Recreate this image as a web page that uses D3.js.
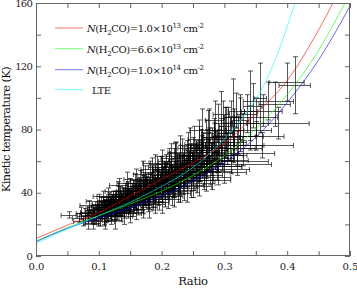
<!DOCTYPE html>
<html><head><meta charset="utf-8">
<script src="https://cdn.jsdelivr.net/npm/d3@7"></script>
<style>body{margin:0;background:#fff}svg{display:block}</style>
</head><body><svg id="c" width="357" height="288"></svg>
<script>
// ---- data ----
const ratioTicks = [0, 0.1, 0.2, 0.3, 0.4, 0.5];
const ratioMinorTicks = [0.05, 0.15, 0.25, 0.35, 0.45];
const tempTicks = [0, 40, 80, 120, 160];
const tempMinorTicks = [20, 60, 100, 140];

const legendLabels = ["1.0", "6.6", "1.0"];
const legendExps = ["13", "13", "14"];
const curveColors = ["#ff0000", "#00ff00", "#0000ff", "#00ffff"];

const redRatio = [0, 0.05, 0.1, 0.15, 0.2, 0.25, 0.3, 0.35, 0.4, 0.45, 0.473];
const redTemp  = [11, 19.5, 27.5, 38, 48.5, 59, 71, 90, 111, 143, 160];
const greenRatio = [0, 0.05, 0.1, 0.15, 0.2, 0.25, 0.3, 0.35, 0.4, 0.45, 0.492];
const greenTemp  = [9.5, 18, 25.5, 33, 41, 51, 63.5, 80.5, 102, 130, 160];
const blueRatio = [0, 0.05, 0.1, 0.15, 0.2, 0.25, 0.3, 0.35, 0.4, 0.45, 0.5];
const blueTemp  = [9, 17.5, 24, 30.5, 38, 47.5, 59, 75, 97, 124, 158];
const lteRatio = [0, 0.05, 0.1, 0.15, 0.2, 0.25, 0.3, 0.33, 0.36, 0.38, 0.4, 0.42];
const lteTemp  = [8, 17, 25.5, 34, 44, 56, 74, 88, 106, 123, 145, 170];

// observed points: [ratio, Tkin, ratio error, Tkin error]
const observations = [
[0.052,26,0.012,2],[0.068,24,0.010,3],[0.072,27,0.008,4],[0.075,22,0.015,3],[0.078,25,0.012,5],[0.083,23,0.008,6],
[0.085,32,0.015,3],[0.106,38,0.015,3],[0.132,45,0.015,4],[0.190,59,0.020,5],
[0.081,28,0.010,3],[0.086,26,0.014,3],[0.088,24,0.009,4],[0.090,29,0.012,3],[0.092,27,0.020,4],[0.093,25,0.010,5],[0.095,23,0.011,3],[0.097,30,0.013,4],[0.098,27,0.009,3],[0.099,25,0.016,6],[0.100,32,0.012,3],[0.101,28,0.010,4],[0.102,24,0.008,5],[0.104,26,0.015,3],
[0.105,30,0.010,4],[0.106,28,0.022,3],[0.107,33,0.012,4],[0.108,25,0.011,5],[0.109,29,0.009,3],[0.110,31,0.014,4],[0.111,27,0.018,6],[0.112,34,0.010,3],[0.113,30,0.013,5],[0.114,26,0.009,4],[0.115,32,0.016,3],[0.116,29,0.011,4],[0.117,35,0.008,5],[0.118,28,0.012,3],[0.119,31,0.020,6],[0.120,33,0.010,4],[0.120,26,0.014,3],[0.121,30,0.009,5],
[0.122,35,0.011,4],[0.123,31,0.010,3],[0.124,28,0.017,5],[0.125,37,0.012,4],[0.126,33,0.009,6],[0.127,30,0.013,3],[0.128,34,0.010,4],[0.129,27,0.015,4],[0.130,36,0.011,5],[0.131,32,0.020,3],[0.132,29,0.009,4],[0.133,38,0.012,6],[0.134,34,0.014,3],[0.135,31,0.010,5],[0.136,36,0.013,4],[0.137,28,0.011,3],[0.138,33,0.018,5],[0.139,39,0.010,4],[0.140,35,0.012,3],[0.140,30,0.009,6],
[0.141,37,0.014,4],[0.142,33,0.011,5],[0.143,40,0.010,3],[0.144,31,0.016,4],[0.145,36,0.012,6],[0.146,34,0.009,4],[0.147,42,0.013,5],[0.148,38,0.020,3],[0.149,32,0.011,4],[0.150,36,0.010,5],[0.151,40,0.015,4],[0.152,34,0.012,6],[0.153,38,0.009,3],[0.154,43,0.011,5],[0.155,35,0.018,4],[0.156,32,0.013,5],[0.157,39,0.010,4],[0.158,37,0.012,6],[0.159,44,0.014,3],[0.160,34,0.011,5],
[0.161,41,0.010,4],[0.162,38,0.016,5],[0.163,35,0.012,6],[0.164,45,0.011,4],[0.165,40,0.013,5],[0.166,37,0.009,4],[0.167,42,0.020,6],[0.168,34,0.012,5],[0.169,39,0.010,4],[0.170,46,0.014,5],[0.171,41,0.011,6],[0.172,36,0.015,4],[0.173,43,0.010,5],[0.174,39,0.012,7],[0.175,48,0.013,4],[0.176,37,0.011,5],[0.177,44,0.018,6],[0.178,40,0.010,4],[0.179,35,0.012,5],[0.180,42,0.014,6],
[0.181,47,0.011,5],[0.182,39,0.013,6],[0.183,44,0.010,4],[0.184,50,0.015,7],[0.185,41,0.012,5],[0.186,37,0.020,6],[0.187,46,0.011,5],[0.188,43,0.013,8],[0.189,52,0.010,5],[0.190,39,0.014,6],[0.191,45,0.012,4],[0.192,48,0.011,7],[0.193,42,0.016,5],[0.194,38,0.012,6],[0.195,50,0.010,8],[0.196,44,0.013,5],[0.197,47,0.011,6],[0.198,41,0.018,5],[0.199,54,0.012,9],[0.200,45,0.014,5],
[0.201,40,0.011,6],[0.202,49,0.012,7],[0.203,43,0.015,5],[0.204,52,0.010,8],[0.205,46,0.013,6],[0.206,41,0.012,5],[0.207,55,0.020,9],[0.208,48,0.011,6],[0.209,44,0.013,7],[0.210,51,0.010,5],[0.211,42,0.016,6],[0.212,57,0.012,8],[0.213,47,0.011,6],[0.214,53,0.014,7],[0.215,45,0.012,5],[0.216,50,0.018,8],[0.218,43,0.011,6],[0.219,58,0.013,10],
[0.220,49,0.012,7],[0.221,54,0.010,6],[0.222,46,0.015,8],[0.223,60,0.012,12],[0.224,51,0.011,6],[0.226,48,0.022,7],[0.227,56,0.012,8],[0.228,44,0.013,6],[0.229,53,0.010,9],[0.230,62,0.014,8],[0.231,50,0.012,7],[0.233,57,0.016,6],[0.234,47,0.011,8],[0.236,59,0.013,10],[0.237,52,0.030,7],[0.239,55,0.012,8],
[0.240,64,0.012,9],[0.241,50,0.015,7],[0.243,58,0.011,8],[0.244,53,0.026,6],[0.246,61,0.013,10],[0.247,48,0.012,7],[0.249,56,0.014,9],[0.250,67,0.011,8],[0.252,54,0.035,7],[0.253,60,0.012,11],[0.255,51,0.016,8],[0.256,63,0.013,9],[0.258,57,0.040,8],[0.259,70,0.011,12],
[0.261,55,0.014,8],[0.263,62,0.012,10],[0.264,58,0.030,9],[0.266,67,0.013,11],[0.268,53,0.012,8],[0.270,64,0.045,10],[0.271,72,0.012,14],[0.273,59,0.016,9],[0.275,66,0.013,12],[0.276,78,0.011,15],[0.278,62,0.038,9],[0.280,70,0.014,11],
[0.282,57,0.045,9],[0.284,74,0.012,13],[0.286,66,0.015,10],[0.288,61,0.050,8],[0.290,80,0.013,16],[0.292,69,0.012,11],[0.294,75,0.030,12],[0.296,64,0.040,10],[0.298,84,0.014,14],[0.300,72,0.016,12],
[0.302,78,0.012,16],[0.304,68,0.045,10],[0.306,82,0.014,12],[0.309,74,0.020,14],[0.311,88,0.012,10],[0.313,70,0.050,11],[0.316,80,0.015,13],[0.319,92,0.013,11],[0.322,76,0.040,12],[0.325,86,0.014,14],[0.330,80,0.045,10],[0.336,90,0.016,12],
[0.340,84,0.030,11],[0.345,95,0.015,14],[0.350,88,0.035,12],[0.357,100,0.010,22],[0.362,92,0.030,10],[0.370,98,0.040,12],[0.380,96,0.025,14],[0.399,110,0.028,12],[0.412,108,0.025,18],[0.385,84,0.050,10],
[0.274,75,0.010,17],[0.301,78,0.012,16],[0.325,84,0.012,18],[0.314,88,0.014,24],[0.340,92,0.013,25],[0.221,58,0.012,13],
[0.360,70,0.050,8],[0.350,76,0.045,9],[0.330,65,0.050,8],[0.310,60,0.060,8],[0.320,58,0.055,7],
[0.090,21,0.012,4],[0.110,22,0.015,5],[0.125,23,0.012,6],[0.140,25,0.014,5],[0.150,27,0.018,6],[0.160,28,0.012,5],[0.170,30,0.015,6],[0.180,31,0.013,7],[0.190,33,0.016,6],[0.200,34,0.012,7],[0.210,36,0.020,6],[0.220,38,0.014,7],[0.230,40,0.016,6],[0.240,42,0.015,8],[0.250,44,0.030,7],[0.260,46,0.025,8],[0.270,48,0.040,7],[0.280,50,0.030,8],[0.290,53,0.045,8],[0.300,55,0.040,9],
[0.100,35,0.020,4],[0.115,38,0.018,5],[0.130,41,0.020,6],[0.145,46,0.016,7],[0.160,49,0.020,6],[0.170,52,0.015,8],[0.185,55,0.018,7],[0.200,58,0.020,9],[0.215,62,0.016,9],[0.230,66,0.020,10],[0.245,70,0.015,11],[0.260,74,0.018,12],[0.265,80,0.020,13],[0.285,86,0.015,12],[0.295,90,0.013,14],
[0.085,27,0.013,4],[0.095,26,0.016,4],[0.103,29,0.012,5],[0.108,31,0.020,4],[0.113,27,0.014,5],[0.118,33,0.012,4],[0.124,32,0.017,6],[0.128,36,0.015,5],[0.134,30,0.012,5],[0.138,37,0.016,6],[0.143,35,0.014,5],[0.148,33,0.018,6],[0.153,41,0.012,5],[0.157,36,0.016,6],[0.162,42,0.013,6],[0.167,39,0.017,5],[0.172,44,0.015,7],[0.176,41,0.012,6],[0.180,38,0.020,6],[0.185,45,0.014,7],[0.190,42,0.016,6],[0.195,47,0.013,7],[0.200,41,0.018,7],[0.205,50,0.015,8],[0.210,46,0.014,7],[0.215,49,0.020,8],[0.220,44,0.016,7],[0.225,53,0.018,9],[0.230,48,0.020,8],[0.235,55,0.015,9],[0.240,52,0.022,8],[0.245,57,0.018,10],[0.250,54,0.020,9],[0.255,59,0.025,10],[0.260,56,0.020,9],[0.265,62,0.022,11],[0.270,59,0.030,10],[0.275,64,0.025,11],[0.280,61,0.035,10],[0.285,67,0.020,12],[0.290,64,0.040,11],[0.295,70,0.025,12],[0.305,72,0.030,12],[0.315,76,0.035,12],[0.320,68,0.040,11],
[0.104,33,0.014,4],[0.109,24,0.012,5],[0.114,35,0.016,4],[0.119,25,0.013,5],[0.123,36,0.015,5],[0.127,26,0.014,4],[0.131,39,0.012,5],[0.136,27,0.015,5],[0.141,41,0.013,5],[0.146,29,0.016,5],[0.150,43,0.012,6],[0.154,30,0.015,5],[0.158,46,0.014,6],[0.163,32,0.013,6],[0.166,48,0.016,6],[0.171,33,0.014,6],[0.174,50,0.012,7],[0.178,34,0.017,6],[0.182,53,0.014,7],[0.187,35,0.015,6],[0.192,56,0.013,7],[0.196,36,0.016,7],[0.201,55,0.015,8],[0.206,38,0.014,7],[0.211,60,0.016,8],[0.216,39,0.015,7],[0.221,63,0.014,9],[0.226,41,0.016,7],[0.232,65,0.018,9],[0.236,43,0.017,8],[0.242,68,0.016,10],[0.247,45,0.020,8],[0.252,71,0.015,11],[0.257,48,0.025,8],[0.262,69,0.020,11],[0.267,51,0.030,9],[0.272,68,0.025,12],[0.277,54,0.035,9],[0.283,72,0.020,12],[0.288,57,0.040,9],
[0.125,30,0.020,5],[0.135,33,0.020,5],[0.145,35,0.020,6],[0.155,38,0.020,6],[0.165,41,0.020,6],[0.175,43,0.020,7],[0.185,46,0.020,7],[0.195,49,0.020,7],[0.205,51,0.020,8],[0.215,53,0.020,8],[0.225,56,0.020,8],[0.235,58,0.020,9],[0.245,61,0.020,9],[0.255,63,0.020,10],[0.265,66,0.020,10],[0.275,70,0.020,11]
];

// ---- layout ----
const svg = d3.select("#c");
const m = {l: 36, r: 350, t: 3, b: 256};
const x = d3.scaleLinear().domain([0, 0.5]).range([m.l, m.r]);
const y = d3.scaleLinear().domain([0, 160]).range([m.b, m.t]);
const axisColor = "#666";
const serif = "'DejaVu Serif', serif";

svg.append("defs").append("clipPath").attr("id", "clip")
  .append("rect").attr("x", m.l).attr("y", m.t).attr("width", m.r - m.l).attr("height", m.b - m.t);

// error bars
const eb = svg.append("g").attr("clip-path", "url(#clip)")
  .attr("stroke", "#000").attr("stroke-opacity", 0.65).attr("stroke-width", 1).attr("fill", "none");
const cap = 2.5;
observations.forEach(([r, t, dr, dt]) => {
  const cx = Math.round(x(r)) + 0.5, cy = Math.round(y(t)) + 0.5;
  const x0 = x(r - dr), x1 = x(r + dr), y0 = y(t - dt), y1 = y(t + dt);
  eb.append("path").attr("d",
    `M${x0},${cy}H${x1}M${x0},${cy - cap}V${cy + cap}M${x1},${cy - cap}V${cy + cap}` +
    `M${cx},${y0}V${y1}M${cx - cap},${y0}H${cx + cap}M${cx - cap},${y1}H${cx + cap}`);
});

// model curves
const curves = [
  [redRatio, redTemp], [greenRatio, greenTemp], [blueRatio, blueTemp], [lteRatio, lteTemp]
];
const line = d3.line().x(d => x(d[0])).y(d => y(d[1])).curve(d3.curveMonotoneX);
const cg = svg.append("g").attr("clip-path", "url(#clip)");
curves.forEach(([rs, ts], i) => {
  cg.append("path").datum(rs.map((r, k) => [r, ts[k]]))
    .attr("d", line).attr("fill", "none").attr("stroke", curveColors[i])
    .attr("stroke-opacity", 0.6).attr("stroke-width", 1);
});

// frame
svg.append("rect").attr("x", m.l + 0.5).attr("y", m.t + 0.5)
  .attr("width", m.r - m.l - 1).attr("height", m.b - m.t - 1)
  .attr("fill", "none").attr("stroke", axisColor).attr("stroke-width", 1);

function styleAxis(g) {
  g.attr("font-family", serif).attr("font-size", 10);
  g.select(".domain").remove();
  g.selectAll(".tick line").attr("stroke", axisColor);
  g.selectAll(".tick text").attr("fill", "#222");
}
const allX = ratioTicks.concat(ratioMinorTicks).sort((a, b) => a - b);
const allY = tempTicks.concat(tempMinorTicks).sort((a, b) => a - b);
const fmtX = d => ratioTicks.includes(d) ? d.toFixed(1) : "";
const fmtY = d => tempTicks.includes(d) ? String(d) : "";

svg.append("g").attr("transform", `translate(0,${m.b})`)
  .call(d3.axisBottom(x).tickValues(allX).tickFormat(fmtX).tickSize(-5).tickSizeOuter(0).tickPadding(7))
  .call(styleAxis);
svg.append("g").attr("transform", `translate(0,${m.t})`)
  .call(d3.axisTop(x).tickValues(allX).tickFormat("").tickSize(-5).tickSizeOuter(0))
  .call(styleAxis);
svg.append("g").attr("transform", `translate(${m.l},0)`)
  .call(d3.axisLeft(y).tickValues(allY).tickFormat(fmtY).tickSize(-5).tickSizeOuter(0).tickPadding(4))
  .call(styleAxis)
  .selectAll(".tick text").style("letter-spacing", "-0.8px");
svg.append("g").attr("transform", `translate(${m.r},0)`)
  .call(d3.axisRight(y).tickValues(allY).tickFormat("").tickSize(-5).tickSizeOuter(0))
  .call(styleAxis);

// axis titles
svg.append("text").attr("x", (m.l + m.r) / 2).attr("y", 285).attr("text-anchor", "middle")
  .attr("font-family", serif).attr("font-size", 11.5).style("letter-spacing", "-0.3px")
  .attr("fill", "#111").text("Ratio");
svg.append("text").attr("transform", `translate(10,${(m.t + m.b) / 2}) rotate(-90)`)
  .attr("text-anchor", "middle")
  .attr("font-family", serif).attr("font-size", 11.5).style("letter-spacing", "-0.6px")
  .attr("fill", "#111").text("Kinetic temperature (K)");

// legend
const legRows = [28, 48.7, 69.7, 89.7];
const leg = svg.append("g").attr("font-family", serif).attr("font-size", 10)
  .style("letter-spacing", "-0.4px").attr("fill", "#111");
legRows.forEach((ry, i) => {
  leg.append("line").attr("x1", 55).attr("x2", 83).attr("y1", ry).attr("y2", ry)
    .attr("stroke", curveColors[i]).attr("stroke-opacity", 0.55).attr("stroke-width", 1);
  const t = leg.append("text").attr("x", 87).attr("y", ry + 4);
  if (i < 3) {
    t.append("tspan").attr("font-style", "italic").text("N");
    t.append("tspan").text("(H");
    t.append("tspan").attr("dy", 3).attr("font-size", 7).text("2");
    t.append("tspan").attr("dy", -3).text("CO)=" + legendLabels[i] + "\u00d710");
    t.append("tspan").attr("dy", -4).attr("font-size", 7).text(legendExps[i]);
    t.append("tspan").attr("dy", 4).text(" cm");
    t.append("tspan").attr("dy", -4).attr("font-size", 7).text("-2");
  } else {
    t.append("tspan").attr("dx", 5).text("LTE");
  }
});
</script>
</body></html>
